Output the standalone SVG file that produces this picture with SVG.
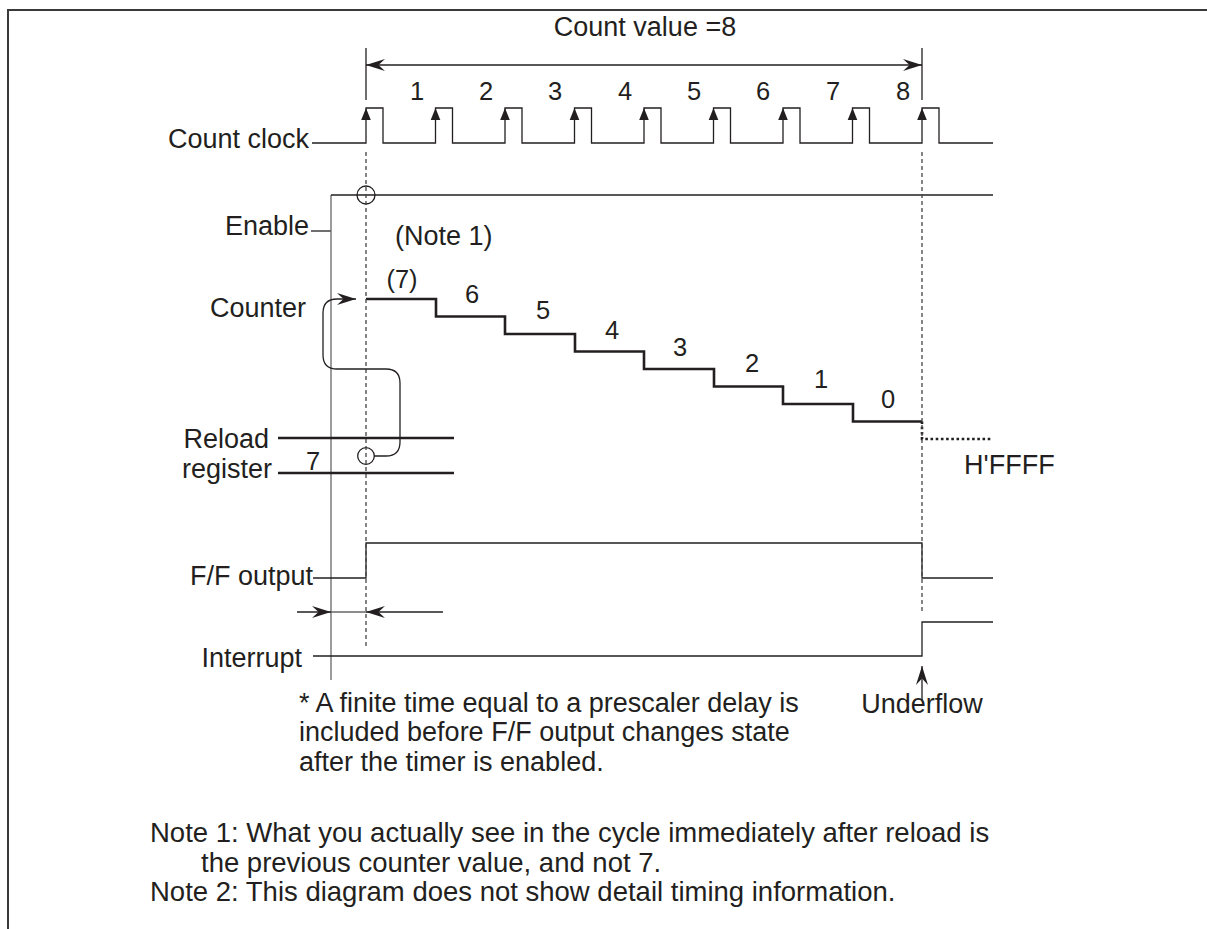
<svg xmlns="http://www.w3.org/2000/svg" xmlns:xlink="http://www.w3.org/1999/xlink" width="1207" height="929" viewBox="0 0 1207 929">
<style>
text{font-family:"Liberation Sans",Arial,Helvetica,sans-serif;font-size:27px;fill:#231f20}
.d{font-size:25.5px}
.n{font-size:27.5px}
.ln{fill:none;stroke:#231f20;stroke-width:1.3}
.thin{fill:none;stroke:#666;stroke-width:1.3}
.thick{fill:none;stroke:#231f20;stroke-width:2.6}
.dash{fill:none;stroke:#444;stroke-width:1.3;stroke-dasharray:4,3}
.dot{fill:none;stroke:#231f20;stroke-width:2.6;stroke-dasharray:2.6,2.6}
.end{text-anchor:end}
.mid{text-anchor:middle}
</style>
<defs>
<marker id="barb" viewBox="-20 -7 21 14" refX="0" refY="0" markerWidth="21" markerHeight="14" markerUnits="userSpaceOnUse" orient="auto-start-reverse">
<path d="M0,0 L-19,-6 L-12.5,0 L-19,6 Z" fill="#231f20"/>
</marker>
<path id="clk" d="M0,0 L-4.8,12 L4.8,12 Z" fill="#231f20"/>
</defs>
<rect width="1207" height="929" fill="#fff"/>
<g id="frame">
<path d="M8,929 L8,10 L1207,10" fill="none" stroke="#3a3a3a" stroke-width="2"/>
</g>
<g id="count-value">
<text x="645" y="36" class="mid">Count value =8</text>
<path class="ln" d="M366,48 L366,100 M922,48 L922,100"/>
</g>
<g id="count-clock">
<text x="309" y="148" class="end">Count clock</text>
<path class="ln" d="M312,143 L366,143 L366,108 L383,108 L383,143 L435.5,143 L435.5,108 L452.5,108 L452.5,143 L505,143 L505,108 L522,108 L522,143 L574.5,143 L574.5,108 L591.5,108 L591.5,143 L644,143 L644,108 L661,108 L661,143 L713.5,143 L713.5,108 L730.5,108 L730.5,143 L783,143 L783,108 L800,108 L800,143 L852.5,143 L852.5,108 L869.5,108 L869.5,143 L922,143 L922,108 L939,108 L939,143 L993,143"/>
<use xlink:href="#clk" x="366" y="108"/>
<use xlink:href="#clk" x="435.5" y="108"/>
<use xlink:href="#clk" x="505" y="108"/>
<use xlink:href="#clk" x="574.5" y="108"/>
<use xlink:href="#clk" x="644" y="108"/>
<use xlink:href="#clk" x="713.5" y="108"/>
<use xlink:href="#clk" x="783" y="108"/>
<use xlink:href="#clk" x="852.5" y="108"/>
<use xlink:href="#clk" x="922" y="108"/>
<text class="d mid" x="417" y="100">1</text>
<text class="d mid" x="486" y="100">2</text>
<text class="d mid" x="555" y="100">3</text>
<text class="d mid" x="625" y="100">4</text>
<text class="d mid" x="694" y="100">5</text>
<text class="d mid" x="763" y="100">6</text>
<text class="d mid" x="833" y="100">7</text>
<text class="d mid" x="903" y="100">8</text>
</g>
<g id="enable">
<text x="309" y="235" class="end">Enable</text>
<path class="ln" d="M311,231 L331,231"/>
<path class="thin" d="M331,680 L331,195"/>
<path class="ln" d="M331,195 L993,195"/>
<circle cx="366" cy="195" r="9" class="ln"/>
<text x="395" y="245">(Note 1)</text>
</g>
<g id="counter">
<text x="306" y="317" class="end">Counter</text>
<path class="thick" d="M366,299 L436,299 L436,316.5 L505,316.5 L505,334 L575,334 L575,351.5 L644,351.5 L644,369 L714,369 L714,386.5 L783,386.5 L783,404 L853,404 L853,421.5 L922,421.5"/>
<path class="dot" d="M922,421.5 L922,439 L992,439"/>
<text class="d mid" x="402" y="288">(7)</text>
<text class="d mid" x="472" y="303">6</text>
<text class="d mid" x="543" y="319">5</text>
<text class="d mid" x="612" y="339">4</text>
<text class="d mid" x="680" y="356">3</text>
<text class="d mid" x="752" y="372">2</text>
<text class="d mid" x="821" y="388">1</text>
<text class="d mid" x="888" y="408">0</text>
<text x="964" y="474">H'FFFF</text>
</g>
<g id="reload-register">
<text x="269" y="448" class="end">Reload</text>
<text x="272" y="478" class="end">register</text>
<path class="thick" d="M278,438 L454,438 M278,473 L454,473"/>
<text class="d mid" x="313" y="470">7</text>
<circle cx="366" cy="456" r="8.3" class="ln"/>
</g>
<g id="ff-output">
<text x="313" y="585" class="end">F/F output</text>
<path class="ln" d="M313,578 L366,578 L366,543 L922,543 L922,578 L993,578"/>
</g>
<g id="interrupt">
<text x="302" y="667" class="end">Interrupt</text>
<path class="ln" d="M313,656 L922,656 L922,622 L993,622"/>
</g>
<g id="connectors">
<path class="dash" d="M366,152 L366,648"/>
<path class="dash" d="M922,152 L922,612"/>
<path class="ln" d="M366,65 L922,65" marker-start="url(#barb)" marker-end="url(#barb)"/>
<path class="ln" d="M374,456 L386,456 Q400,456 400,442 L400,383 Q400,369 386,369 L337,369 Q323,369 323,355 L323,313 Q323,299 337,299 L356,299" marker-end="url(#barb)"/>
<path class="ln" d="M297,612 L331,612" marker-end="url(#barb)"/>
<path class="thin" d="M331,612 L366,612"/>
<path class="ln" d="M443,612 L366,612" marker-end="url(#barb)"/>
<path class="ln" d="M922,700 L922,666" marker-end="url(#barb)"/>
</g>
<g id="notes">
<text x="922" y="713" class="mid">Underflow</text>
<text x="299" y="712">* A finite time equal to a prescaler delay is</text>
<text x="299" y="741">included before F/F output changes state</text>
<text x="299" y="771">after the timer is enabled.</text>
<text x="150" y="842" class="n">Note 1: What you actually see in the cycle immediately after reload is</text>
<text x="201" y="872" class="n">the previous counter value, and not 7.</text>
<text x="150" y="901" class="n">Note 2: This diagram does not show detail timing information.</text>
</g>
</svg>
